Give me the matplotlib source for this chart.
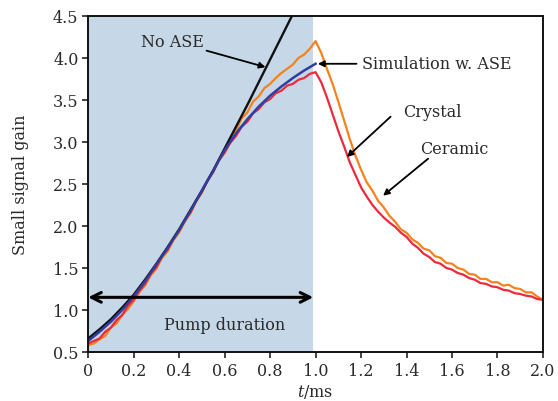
import numpy as np
import matplotlib
matplotlib.use("Agg")
import matplotlib.pyplot as plt

# =========================
# DATA
# =========================
t_sim = [0.0, 0.05, 0.1, 0.15, 0.2, 0.25, 0.3, 0.35, 0.4, 0.45, 0.5,
         0.55, 0.6, 0.65, 0.7, 0.75, 0.8, 0.85, 0.9, 0.95, 1.0]
gain_sim_ase = [0.63, 0.74, 0.86, 1.00, 1.16, 1.34, 1.54, 1.74, 1.95, 2.18, 2.42,
                2.66, 2.90, 3.10, 3.27, 3.42, 3.55, 3.66, 3.76, 3.85, 3.93]

t_no_ase = [0.0, 0.05, 0.1, 0.15, 0.2, 0.25, 0.3, 0.35, 0.4, 0.45, 0.5,
            0.55, 0.6, 0.65, 0.7, 0.75, 0.8, 0.85, 0.9, 0.95]
gain_no_ase = [0.66, 0.77, 0.89, 1.03, 1.18, 1.36, 1.55, 1.75, 1.96, 2.19, 2.42,
               2.66, 2.92, 3.18, 3.44, 3.71, 3.98, 4.25, 4.52, 4.79]

t_meas = [0.0, 0.025, 0.05, 0.075, 0.1, 0.125, 0.15, 0.175, 0.2, 0.225,
          0.25, 0.275, 0.3, 0.325, 0.35, 0.375, 0.4, 0.425, 0.45, 0.475,
          0.5, 0.525, 0.55, 0.575, 0.6, 0.625, 0.65, 0.675, 0.7, 0.725,
          0.75, 0.775, 0.8, 0.825, 0.85, 0.875, 0.9, 0.925, 0.95, 0.975,
          1.0, 1.025, 1.05, 1.075, 1.1, 1.125, 1.15, 1.175, 1.2, 1.225,
          1.25, 1.275, 1.3, 1.325, 1.35, 1.375, 1.4, 1.425, 1.45, 1.475,
          1.5, 1.525, 1.55, 1.575, 1.6, 1.625, 1.65, 1.675, 1.7, 1.725,
          1.75, 1.775, 1.8, 1.825, 1.85, 1.875, 1.9, 1.925, 1.95, 1.975, 2.0]

gain_ceramic = [0.58, 0.60, 0.65, 0.69, 0.79, 0.84, 0.94, 1.01, 1.10, 1.21,
                1.29, 1.41, 1.49, 1.62, 1.70, 1.83, 1.92, 2.05, 2.15, 2.29,
                2.40, 2.54, 2.65, 2.79, 2.90, 3.03, 3.13, 3.28, 3.35, 3.48,
                3.54, 3.64, 3.69, 3.76, 3.82, 3.87, 3.92, 4.00, 4.04, 4.11,
                4.20, 4.06, 3.87, 3.69, 3.48, 3.26, 3.04, 2.84, 2.67, 2.52,
                2.42, 2.30, 2.22, 2.12, 2.05, 1.96, 1.92, 1.84, 1.80, 1.73,
                1.71, 1.64, 1.62, 1.56, 1.55, 1.50, 1.48, 1.43, 1.42, 1.37,
                1.37, 1.33, 1.33, 1.29, 1.30, 1.26, 1.25, 1.21, 1.21, 1.16, 1.12]

gain_crystal = [0.60, 0.63, 0.66, 0.74, 0.79, 0.88, 0.94, 1.05, 1.12, 1.23,
                1.31, 1.43, 1.51, 1.64, 1.72, 1.85, 1.94, 2.07, 2.16, 2.30,
                2.40, 2.54, 2.64, 2.78, 2.87, 2.99, 3.07, 3.18, 3.24, 3.34,
                3.39, 3.47, 3.51, 3.58, 3.61, 3.67, 3.69, 3.74, 3.76, 3.81,
                3.83, 3.71, 3.53, 3.33, 3.13, 2.95, 2.76, 2.61, 2.46, 2.35,
                2.25, 2.17, 2.10, 2.04, 1.99, 1.92, 1.87, 1.79, 1.74, 1.67,
                1.63, 1.57, 1.55, 1.50, 1.48, 1.44, 1.42, 1.38, 1.36, 1.32,
                1.31, 1.28, 1.27, 1.24, 1.23, 1.20, 1.19, 1.17, 1.16, 1.13, 1.12]

x_ticks = [0, 0.2, 0.4, 0.6, 0.8, 1.0, 1.2, 1.4, 1.6, 1.8, 2.0]
x_ticklabels = ["0", "0.2", "0.4", "0.6", "0.8", "1.0", "1.2", "1.4", "1.6", "1.8", "2.0"]
y_ticks = [0.5, 1.0, 1.5, 2.0, 2.5, 3.0, 3.5, 4.0, 4.5]
y_ticklabels = ["0.5", "1.0", "1.5", "2.0", "2.5", "3.0", "3.5", "4.0", "4.5"]
pump_end = 0.99

# =========================
# PLOT
# =========================
plt.rcParams["font.family"] = ["DejaVu Serif"]
plt.rcParams["mathtext.fontset"] = "dejavuserif"

fs = 11.5
txt = "#2a2a2a"
fig = plt.figure(figsize=(5.58, 4.02), dpi=100)
ax = fig.add_axes([0.158, 0.122, 0.815, 0.836])

ax.axvspan(0, pump_end, color="#c6d8e8", lw=0)

ax.plot(t_meas, gain_ceramic, color="#f5821f", lw=1.6)
ax.plot(t_meas, gain_crystal, color="#ec2a3c", lw=1.6)
ax.plot(t_no_ase, gain_no_ase, color="#111111", lw=1.7)
ax.plot(t_sim, gain_sim_ase, color="#2e3ea3", lw=1.8)

ax.set_xlim(0, 2.0)
ax.set_ylim(0.5, 4.5)
ax.set_xticks(x_ticks)
ax.set_xticklabels(x_ticklabels)
ax.set_yticks(y_ticks)
ax.set_yticklabels(y_ticklabels)
ax.tick_params(direction="out", length=4, width=1.2, labelsize=fs, colors="#222222",
               labelcolor=txt, pad=3)
for s in ax.spines.values():
    s.set_linewidth(1.4)
    s.set_color("#111111")

ax.set_xlabel(r"$t$/ms", fontsize=fs, labelpad=2.5, color=txt)
ax.set_ylabel("Small signal gain", fontsize=fs, labelpad=17, color=txt)

arrow = dict(arrowstyle="-|>", color="black", lw=1.3, mutation_scale=9, shrinkA=0, shrinkB=0)
ax.annotate("No ASE", xy=(0.78, 3.89), xytext=(0.37, 4.2), fontsize=fs, color=txt,
            ha="center", va="center", arrowprops=arrow)
ax.annotate("", xy=(1.01, 3.93), xytext=(1.18, 3.93), arrowprops=arrow)
ax.text(1.205, 3.93, "Simulation w. ASE", fontsize=fs, va="center", ha="left", color=txt)
ax.annotate("", xy=(1.138, 2.82), xytext=(1.33, 3.30), arrowprops=arrow)
ax.text(1.385, 3.36, "Crystal", fontsize=fs, va="center", ha="left", color=txt)
ax.annotate("", xy=(1.297, 2.36), xytext=(1.495, 2.80), arrowprops=arrow)
ax.text(1.46, 2.92, "Ceramic", fontsize=fs, va="center", ha="left", color=txt)

ax.annotate("", xy=(0.0, 1.15), xytext=(pump_end, 1.15),
            arrowprops=dict(arrowstyle="<->,head_length=0.7,head_width=0.35",
                            color="black", lw=2.2, shrinkA=0, shrinkB=0))
ax.text(0.6, 0.83, "Pump duration", fontsize=fs, ha="center", va="center", color=txt)

fig.savefig("out.png", dpi=100)
